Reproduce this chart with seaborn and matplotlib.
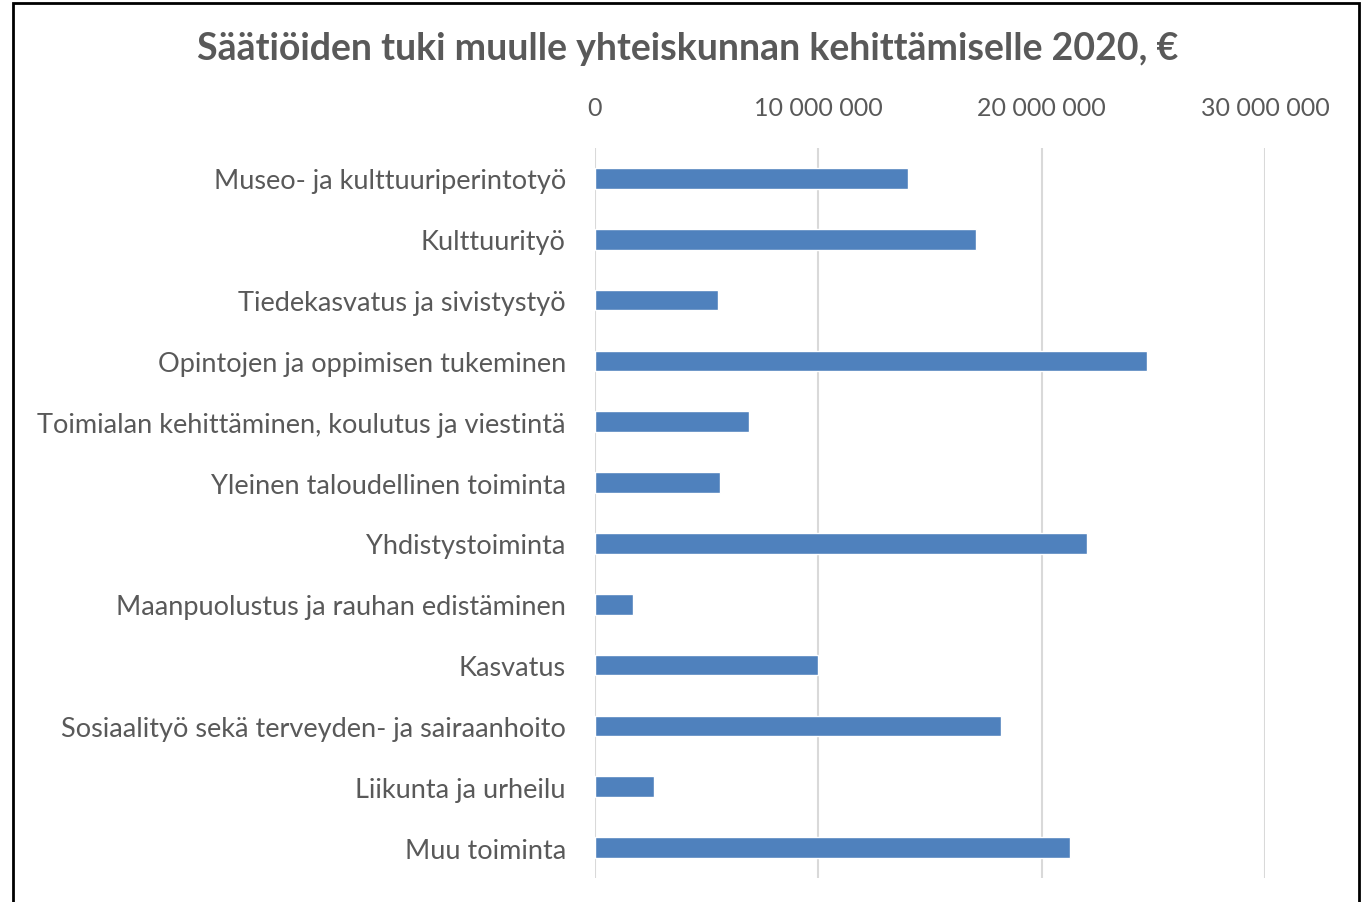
import pandas as pd
import matplotlib.pyplot as plt
import seaborn as sns
from matplotlib.ticker import FuncFormatter
from matplotlib.patches import Rectangle

# values, euro
kohteet = [
    'Museo- ja kulttuuriperintotyö',
    'Kulttuurityö',
    'Tiedekasvatus ja sivistystyö',
    'Opintojen ja oppimisen tukeminen',
    'Toimialan kehittäminen, koulutus ja viestintä',
    'Yleinen taloudellinen toiminta',
    'Yhdistystoiminta',
    'Maanpuolustus ja rauhan edistäminen',
    'Kasvatus',
    'Sosiaalityö sekä terveyden- ja sairaanhoito',
    'Liikunta ja urheilu',
    'Muu toiminta',
]
tuki = [14000000, 17050000, 5500000, 24700000, 6900000, 5600000,
        22050000, 1700000, 10000000, 18200000, 2650000, 21250000]
x_ticks = [0, 10000000, 20000000, 30000000]

df = pd.DataFrame({'kohde': kohteet, 'tuki': tuki})

sns.set_style('white')
plt.rcParams['font.family'] = ['Lato', 'DejaVu Sans']
text_col = '#595959'

fig = plt.figure(figsize=(13.63, 9.03), dpi=100)
ax = fig.add_axes([595 / 1363, 1 - 879 / 903, (1265 - 595) / 1363, (879 - 149) / 903])

sns.barplot(data=df, x='tuki', y='kohde', order=kohteet, color='#4F81BD',
            width=0.34, saturation=1, ax=ax)

ax.set_xlim(0, 30000000)
ax.set_xticks(x_ticks)
ax.xaxis.set_major_formatter(FuncFormatter(lambda v, p: f'{int(v):,}'.replace(',', ' ')))
ax.xaxis.tick_top()
ax.tick_params(axis='x', length=0, pad=21, labelsize=18, labelcolor=text_col)
ax.tick_params(axis='y', length=0, pad=21, labelsize=19.5, labelcolor=text_col)
ax.grid(axis='x', color='#D9D9D9', linewidth=1.5)
ax.set_axisbelow(True)
for s in ax.spines.values():
    s.set_visible(False)
ax.set_xlabel('')
ax.set_ylabel('')

fig.text(688 / 1363, 1 - 49 / 903, 'Säätiöiden tuki muulle yhteiskunnan kehittämiselle 2020, €',
         ha='center', va='center', fontsize=27, fontweight='bold', color=text_col)

# black frame around the chart, bottom edge cut off like in the source
fig.patches.append(Rectangle((13 / 1363, -0.05), (1359 - 13) / 1363, 1.05 - 4 / 903,
                             transform=fig.transFigure, fill=False,
                             edgecolor='black', linewidth=2))

fig.savefig('out.png', dpi=100)
